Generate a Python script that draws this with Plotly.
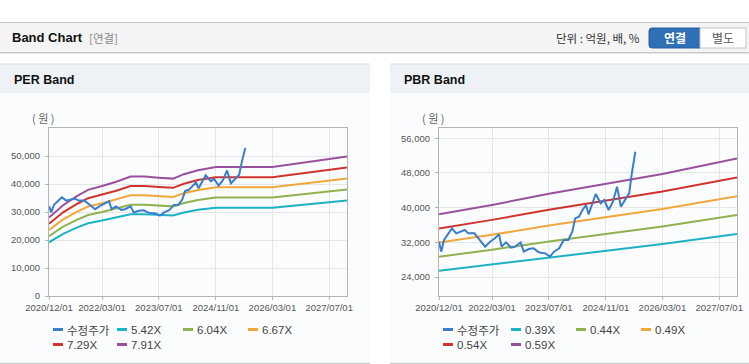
import plotly.graph_objects as go

W, H = 749, 364

# ---------------- data ----------------
price_dates = [
    "2020-12-01", "2020-12-20", "2021-01-13", "2021-02-18", "2021-03-22", "2021-04-28",
    "2021-06-13", "2021-07-10", "2021-08-10", "2021-10-01", "2021-11-04", "2022-01-01",
    "2022-02-12", "2022-03-25", "2022-04-30", "2022-05-22", "2022-06-28", "2022-08-13",
    "2022-09-15", "2022-11-01", "2022-11-28", "2023-01-10", "2023-02-21", "2023-03-28",
    "2023-04-20", "2023-06-03", "2023-07-10", "2023-08-15", "2023-09-28", "2023-11-06",
    "2023-12-15", "2024-01-18", "2024-02-12", "2024-03-15", "2024-04-15", "2024-05-15",
    "2024-06-06", "2024-07-06", "2024-08-06", "2024-09-18", "2024-10-18", "2024-11-25",
    "2025-01-01", "2025-02-05", "2025-03-10", "2025-03-28", "2025-05-03", "2025-05-20",
    "2025-06-12", "2025-07-12",
]
price_values = [
    32150, 29850, 32540, 34070, 35230, 34070,
    34610, 34840, 34070, 34070, 32920, 31000,
    32150, 32920, 33840, 31000, 32000, 30770,
    31000, 32000, 29850, 30460, 30610, 29850,
    29610, 29460, 28690, 29850, 30610, 32540,
    32540, 34460, 37530, 37920, 39460, 40610,
    38460, 40610, 43150, 41000, 41760, 39460,
    41380, 44840, 40230, 41000, 42530, 43300,
    47900, 52900,
]

per_dates = [
    "2020-12-01", "2021-04-01", "2021-08-01", "2021-11-01", "2022-03-01", "2022-07-01",
    "2022-11-01", "2023-03-01", "2023-07-01", "2023-11-01", "2024-02-01", "2024-06-01",
    "2024-11-01", "2026-03-01", "2027-12-01",
]
per_542 = [19187, 22222, 24498, 25962, 26937, 27967, 29214, 29214, 28943, 28726, 29810, 30786, 31544, 31544, 34119]
per_604 = [21382, 24764, 27301, 28932, 30019, 31166, 32556, 32556, 32254, 32012, 33220, 34307, 35153, 35153, 38022]
per_667 = [23612, 27347, 30148, 31949, 33150, 34417, 35951, 35951, 35618, 35351, 36685, 37886, 38819, 38819, 41988]
per_729 = [25807, 29889, 32951, 34919, 36231, 37616, 39293, 39293, 38929, 38637, 40095, 41407, 42428, 42428, 45891]
per_791 = [28001, 32431, 35753, 37889, 39313, 40816, 42635, 42635, 42239, 41923, 43505, 44929, 46036, 46036, 49793]

pbr_dates = ["2020-12-01", "2022-03-01", "2023-07-01", "2024-11-01", "2026-03-01", "2027-12-01"]
pbr_039 = [25428, 26852, 28548, 30030, 31590, 33930]
pbr_044 = [28688, 30294, 32208, 33880, 35640, 38280]
pbr_049 = [31948, 33737, 35868, 37730, 39690, 42630]
pbr_054 = [35208, 37179, 39528, 41580, 43740, 46980]
pbr_059 = [38468, 40622, 43188, 45430, 47790, 51330]

per_names = ["수정주가", "5.42X", "6.04X", "6.67X", "7.29X", "7.91X"]
pbr_names = ["수정주가", "0.39X", "0.44X", "0.49X", "0.54X", "0.59X"]
colors = ["#3a7dcb", "#1cb2c6", "#8fb24f", "#f2a73c", "#d1342c", "#9a519d"]

x_tickvals = ["2020-12-01", "2022-03-01", "2023-07-01", "2024-11-01", "2026-03-01", "2027-07-01"]
x_ticktext = ["2020/12/01", "2022/03/01", "2023/07/01", "2024/11/01", "2026/03/01", "2027/07/01"]
per_yticks = [0, 10000, 20000, 30000, 40000, 50000]
pbr_yticks = [24000, 32000, 40000, 48000, 56000]

# ---------------- helpers ----------------
def fx(px):
    return px / W


def fy(py):
    return 1 - py / H


FONT = "Liberation Sans, Arial, Noto Sans CJK KR, sans-serif"
KFONT = "Noto Sans CJK KR, Liberation Sans, sans-serif"

fig = go.Figure()

per_series = [per_542, per_604, per_667, per_729, per_791, price_values]
pbr_series = [pbr_039, pbr_044, pbr_049, pbr_054, pbr_059, price_values]
order = [1, 2, 3, 4, 5, 0]

for k, vals in zip(order, per_series):
    xs = price_dates if k == 0 else per_dates
    fig.add_trace(go.Scatter(x=xs, y=vals, name=per_names[k], mode="lines",
                             line=dict(color=colors[k], width=2),
                             xaxis="x", yaxis="y", showlegend=False, hoverinfo="skip"))
for k, vals in zip(order, pbr_series):
    xs = price_dates if k == 0 else pbr_dates
    fig.add_trace(go.Scatter(x=xs, y=vals, name=pbr_names[k], mode="lines",
                             line=dict(color=colors[k], width=2),
                             xaxis="x2", yaxis="y2", showlegend=False, hoverinfo="skip"))

common_x = dict(type="date", range=["2020-12-01", "2027-12-01"], tickvals=x_tickvals,
                ticktext=x_ticktext, showgrid=True, gridcolor="#e6e6e6", gridwidth=1,
                showline=True, linecolor="#b4b4b4", linewidth=1, mirror=True,
                ticks="outside", ticklen=3, tickcolor="#b4b4b4",
                tickfont=dict(family=FONT, size=9.5, color="#555555"),
                automargin=False, zeroline=False, fixedrange=True)
common_y = dict(showgrid=True, gridcolor="#e6e6e6", gridwidth=1,
                showline=True, linecolor="#b4b4b4", linewidth=1, mirror=True,
                ticks="outside", ticklen=3, tickcolor="#b4b4b4", tickformat=",",
                tickfont=dict(family=FONT, size=9.5, color="#555555"),
                automargin=False, zeroline=False, fixedrange=True, ticklabelstandoff=3)

fig.update_layout(
    width=W, height=H, margin=dict(l=0, r=0, t=0, b=0),
    paper_bgcolor="#ffffff", plot_bgcolor="#ffffff", showlegend=False,
    xaxis=dict(common_x, domain=[fx(49), fx(347)], anchor="y"),
    yaxis=dict(common_y, domain=[fy(296), fy(128)], anchor="x", range=[0, 60000], tickvals=per_yticks),
    xaxis2=dict(common_x, domain=[fx(439), fx(737)], anchor="y2"),
    yaxis2=dict(common_y, domain=[fy(296), fy(128)], anchor="x2", range=[19616, 58380], tickvals=pbr_yticks),
)

shapes = []
annotations = []

def rect(x0, y0, x1, y1, fill, line=None, lw=0, layer="below"):
    shapes.append(dict(type="rect", xref="paper", yref="paper", x0=fx(x0), x1=fx(x1),
                       y0=fy(y1), y1=fy(y0), fillcolor=fill,
                       line=dict(color=line or fill, width=lw), layer=layer))

def hline(x0, x1, y, color, lw=1):
    shapes.append(dict(type="line", xref="paper", yref="paper", x0=fx(x0), x1=fx(x1),
                       y0=fy(y), y1=fy(y), line=dict(color=color, width=lw), layer="below"))

def text(px, py, s, size=12, color="#333", anchor="left", bold=False, family=KFONT):
    annotations.append(dict(x=fx(px), y=fy(py), xref="paper", yref="paper", text=s,
                            showarrow=False, xanchor=anchor, yanchor="middle",
                            font=dict(family=family, size=size, color=color,
                                      weight="bold" if bold else "normal")))

# top header bar
rect(0, 22, 749, 53, "#f4f4f4")
hline(0, 749, 22.5, "#c4c4c4")
hline(0, 749, 52.5, "#c8c8c8")
hline(0, 749, 53.5, "#e6e6e6")
text(10, 38, "Band Chart", 13, "#111111", bold=True, family=FONT)
text(87, 38, "[연결]", 11.5, "#8a8a8a")
text(642, 38, "단위 : 억원, 배, %", 11.5, "#333333", anchor="right")
shapes.append(dict(type="path", xref="paper", yref="paper",
                   path=f"M {fx(700)},{fy(28)} L {fx(652)},{fy(28)} Q {fx(649)},{fy(28)} {fx(649)},{fy(31)} "
                        f"L {fx(649)},{fy(45)} Q {fx(649)},{fy(48)} {fx(652)},{fy(48)} L {fx(700)},{fy(48)} Z",
                   fillcolor="#2f6fb6", line=dict(color="#285f9e", width=1), layer="below"))
rect(700, 28, 746, 48, "#ffffff", "#c3c3c3", 1)
text(674.5, 38, "연결", 12, "#ffffff", anchor="center", bold=True)
text(723, 38, "별도", 12, "#555555", anchor="center")

# panels
for (x0, x1, title) in [(0, 370, "PER Band"), (390, 749, "PBR Band")]:
    rect(x0, 64, x1, 93, "#eef2f7")
    rect(x0, 93, x1, 363, "#fbfcfd")
    hline(x0, x1, 64, "#dcdfe3")
    hline(x0, x1, 363.5, "#cfcfcf", 1.5)
    text(x0 + 12, 80, title, 12.5, "#111111", bold=True, family=FONT)

text(43, 118, "( 원 )", 11, "#666666", anchor="center")
text(433, 118, "( 원 )", 11, "#666666", anchor="center")

# legends
def legend(names, xs_row1, xs_row2, rows_y):
    pos = [(xs_row1[i], rows_y[0]) for i in range(4)] + [(xs_row2[i], rows_y[1]) for i in range(2)]
    for i, name in enumerate(names):
        lx, ly = pos[i]
        shapes.append(dict(type="line", xref="paper", yref="paper", x0=fx(lx), x1=fx(lx + 10),
                           y0=fy(ly), y1=fy(ly), line=dict(color=colors[i], width=3), layer="above"))
        text(lx + 12, ly, name, 11.5, "#444444", family=KFONT if i == 0 else FONT)

legend(per_names, [53, 117, 183, 248], [53, 117], [329.5, 344.5])
legend(pbr_names, [443, 511, 576, 641], [443, 511], [329.5, 344.5])

fig.update_layout(shapes=shapes, annotations=annotations)
fig.write_html("out.html", config={"displayModeBar": False},
               post_script="document.body.style.margin='0px';document.body.style.overflow='hidden';")
